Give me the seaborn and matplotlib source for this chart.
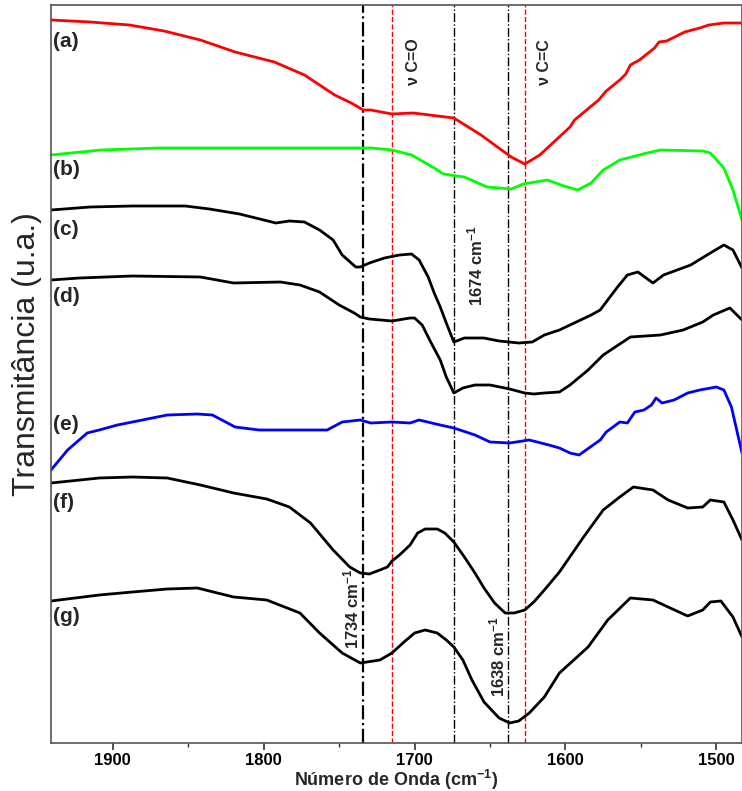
import matplotlib
matplotlib.use("Agg")
import matplotlib.pyplot as plt
import seaborn as sns
import pandas as pd
from matplotlib.ticker import MultipleLocator

# ---- data (wavenumber cm-1, transmittance in arbitrary offset units) ----
wn_a = [1941, 1915, 1889, 1866, 1842, 1819, 1793, 1773, 1753, 1742, 1734, 1729, 1715, 1701, 1674, 1656,
        1636, 1627, 1617, 1597, 1594, 1578, 1573, 1564, 1560, 1557, 1551, 1541, 1538, 1533, 1521,
        1511, 1505, 1495, 1483]
t_a = [723, 721, 718, 712, 703, 691, 681, 668, 648, 640, 633, 633, 629, 630, 625, 608,
       586, 579, 588, 616, 623, 643, 652, 663, 669, 678, 683, 695, 701, 702, 711,
       715, 718, 720, 720]

wn_b = [1941, 1908, 1869, 1809, 1734, 1729, 1715, 1702, 1687, 1681, 1667, 1652, 1636, 1628, 1612, 1601,
        1592, 1583, 1575, 1564, 1546, 1537, 1509, 1504, 1495, 1489, 1483]
t_b = [588, 593, 595, 595, 595, 595, 593, 588, 575, 569, 566, 556, 554, 559, 563, 557,
       553, 560, 573, 583, 590, 593, 592, 590, 575, 553, 523]

wn_c = [1941, 1915, 1887, 1852, 1836, 1816, 1792, 1783, 1773, 1763, 1754, 1748, 1739, 1736, 1730, 1720,
        1710, 1702, 1697, 1691, 1687, 1683, 1679, 1674, 1667, 1654, 1644, 1631, 1622, 1614, 1604,
        1583, 1577, 1566, 1559, 1552, 1542, 1535, 1517, 1504, 1495, 1489, 1483]
t_c = [533, 536, 537, 537, 534, 529, 520, 522, 521, 513, 503, 488, 476, 476, 480, 485,
       488, 489, 483, 466, 450, 436, 420, 401, 405, 405, 402, 400, 401, 408, 413,
       428, 433, 455, 468, 471, 460, 468, 478, 490, 498, 493, 475]

wn_d = [1941, 1922, 1887, 1842, 1820, 1789, 1776, 1763, 1750, 1740, 1736, 1730, 1715, 1703, 1700, 1695,
        1689, 1683, 1679, 1674, 1668, 1660, 1650, 1637, 1627, 1621, 1614, 1604, 1597, 1585, 1575,
        1557, 1537, 1522, 1509, 1502, 1491, 1483]
t_d = [463, 465, 467, 466, 460, 461, 458, 451, 438, 430, 426, 424, 422, 425, 425, 418,
       400, 383, 366, 350, 355, 358, 358, 354, 350, 349, 350, 351, 358, 373, 388,
       406, 408, 413, 421, 428, 435, 423]

wn_e = [1941, 1930, 1917, 1909, 1897, 1887, 1864, 1844, 1834, 1819, 1803, 1776, 1758, 1748, 1736, 1729,
        1715, 1703, 1697, 1683, 1674, 1660, 1650, 1637, 1624, 1611, 1604, 1597, 1591, 1577, 1573,
        1564, 1559, 1554, 1548, 1543, 1540, 1536, 1528, 1519, 1511, 1500, 1495, 1490, 1483]
t_e = [273, 293, 310, 313, 318, 321, 328, 329, 328, 316, 313, 313, 313, 321, 323, 320,
       321, 320, 323, 318, 315, 308, 301, 300, 303, 298, 295, 290, 288, 303, 311,
       321, 320, 331, 333, 338, 345, 340, 343, 350, 353, 356, 353, 336, 290]

wn_f = [1941, 1909, 1887, 1864, 1842, 1820, 1798, 1783, 1769, 1754, 1743, 1736, 1730, 1723, 1718, 1715,
        1710, 1703, 1698, 1693, 1685, 1680, 1674, 1667, 1660, 1654, 1647, 1640, 1634, 1627, 1621,
        1614, 1604, 1588, 1575, 1564, 1555, 1542, 1532, 1519, 1509, 1504, 1495, 1489, 1483]
t_f = [260, 265, 266, 265, 258, 250, 244, 236, 220, 193, 176, 170, 169, 173, 176, 182,
       188, 198, 210, 214, 214, 210, 201, 186, 170, 155, 140, 130, 130, 133, 141,
       153, 171, 206, 233, 246, 256, 253, 243, 235, 236, 243, 241, 223, 203]

wn_g = [1941, 1909, 1887, 1864, 1844, 1820, 1798, 1776, 1763, 1748, 1736, 1723, 1715, 1707, 1700, 1693,
        1685, 1679, 1674, 1668, 1662, 1654, 1649, 1644, 1637, 1631, 1624, 1614, 1604, 1585, 1572,
        1557, 1542, 1532, 1519, 1509, 1504, 1497, 1489, 1483]
t_g = [142, 148, 151, 154, 155, 146, 143, 130, 110, 90, 80, 83, 90, 101, 110, 113,
       110, 103, 96, 83, 63, 41, 33, 25, 20, 22, 30, 46, 70, 96, 123,
       145, 143, 136, 127, 133, 141, 142, 126, 106]

series = [("(a)", wn_a, t_a, "#ff0000"), ("(b)", wn_b, t_b, "#00ff00"), ("(c)", wn_c, t_c, "black"),
          ("(d)", wn_d, t_d, "black"), ("(e)", wn_e, t_e, "#0000ff"), ("(f)", wn_f, t_f, "black"),
          ("(g)", wn_g, t_g, "black")]
label_y = [701, 573, 513, 446, 318, 240, 126]

black_lines = [1734, 1674, 1638]
red_lines = [1715, 1627]
peak_labels = [("1734", 1742, 134), ("1674", 1659.6, 477), ("1638", 1645, 86)]
nu_labels = [("ν C=O", 1701, 681), ("ν C=C", 1614, 681)]

# ---- style ----
sns.set_style("ticks")
plt.rcParams['font.family'] = ['Liberation Sans', 'DejaVu Sans']
plt.rcParams['mathtext.default'] = 'regular'

fig = plt.figure(figsize=(7.42, 7.91), dpi=100)
ax = fig.add_axes([51 / 742, 48 / 791, 691 / 742, 738 / 791])

for (lab, x, y, c), ly in zip(series, label_y):
    df = pd.DataFrame({"wn": x, "T": y})
    sns.lineplot(data=df, x="wn", y="T", color=c, lw=2.0, ax=ax, estimator=None, sort=False)
    ax.text(1939.5, ly, lab, fontsize=15, fontweight='bold', ha='left', va='center')

for i, v in enumerate(black_lines):
    ax.axvline(v, color='black', ls='-.', lw=1.6 if i == 0 else 1.0, zorder=0)
for v in red_lines:
    ax.axvline(v, color='red', ls='--', lw=1.0, zorder=0)

for txt, x, y in peak_labels:
    ax.text(x, y, txt + ' cm$^{-1}$', rotation=90, fontsize=12, fontweight='bold', ha='center', va='center')
for txt, x, y in nu_labels:
    ax.text(x, y, txt, rotation=90, fontsize=11.5, fontweight='bold', ha='center', va='center')

ax.set_xlim(1941, 1483)
ax.set_ylim(0, 738)
ax.set_yticks([])
ax.xaxis.set_major_locator(MultipleLocator(100))
ax.xaxis.set_minor_locator(MultipleLocator(50))
ax.tick_params(axis='x', which='major', length=5, width=1.2, labelsize=12, direction='out', colors='#333333', pad=2)
ax.tick_params(axis='x', which='minor', length=3, width=1.0, direction='out', colors='#333333')
for t in ax.get_xticklabels():
    t.set_fontweight('bold')
    t.set_color('black')
ax.set_xlabel('Número de Onda (cm$^{-1}$)', fontsize=13, fontweight='bold', labelpad=0)
ax.set_ylabel('Transmitância (u.a.)', fontsize=23)
ax.yaxis.set_label_coords(-0.013, 0.527)
for s in ['left', 'bottom', 'top', 'right']:
    ax.spines[s].set_color('#555555')
    ax.spines[s].set_linewidth(1.2)

fig.savefig('out.png', dpi=100)
